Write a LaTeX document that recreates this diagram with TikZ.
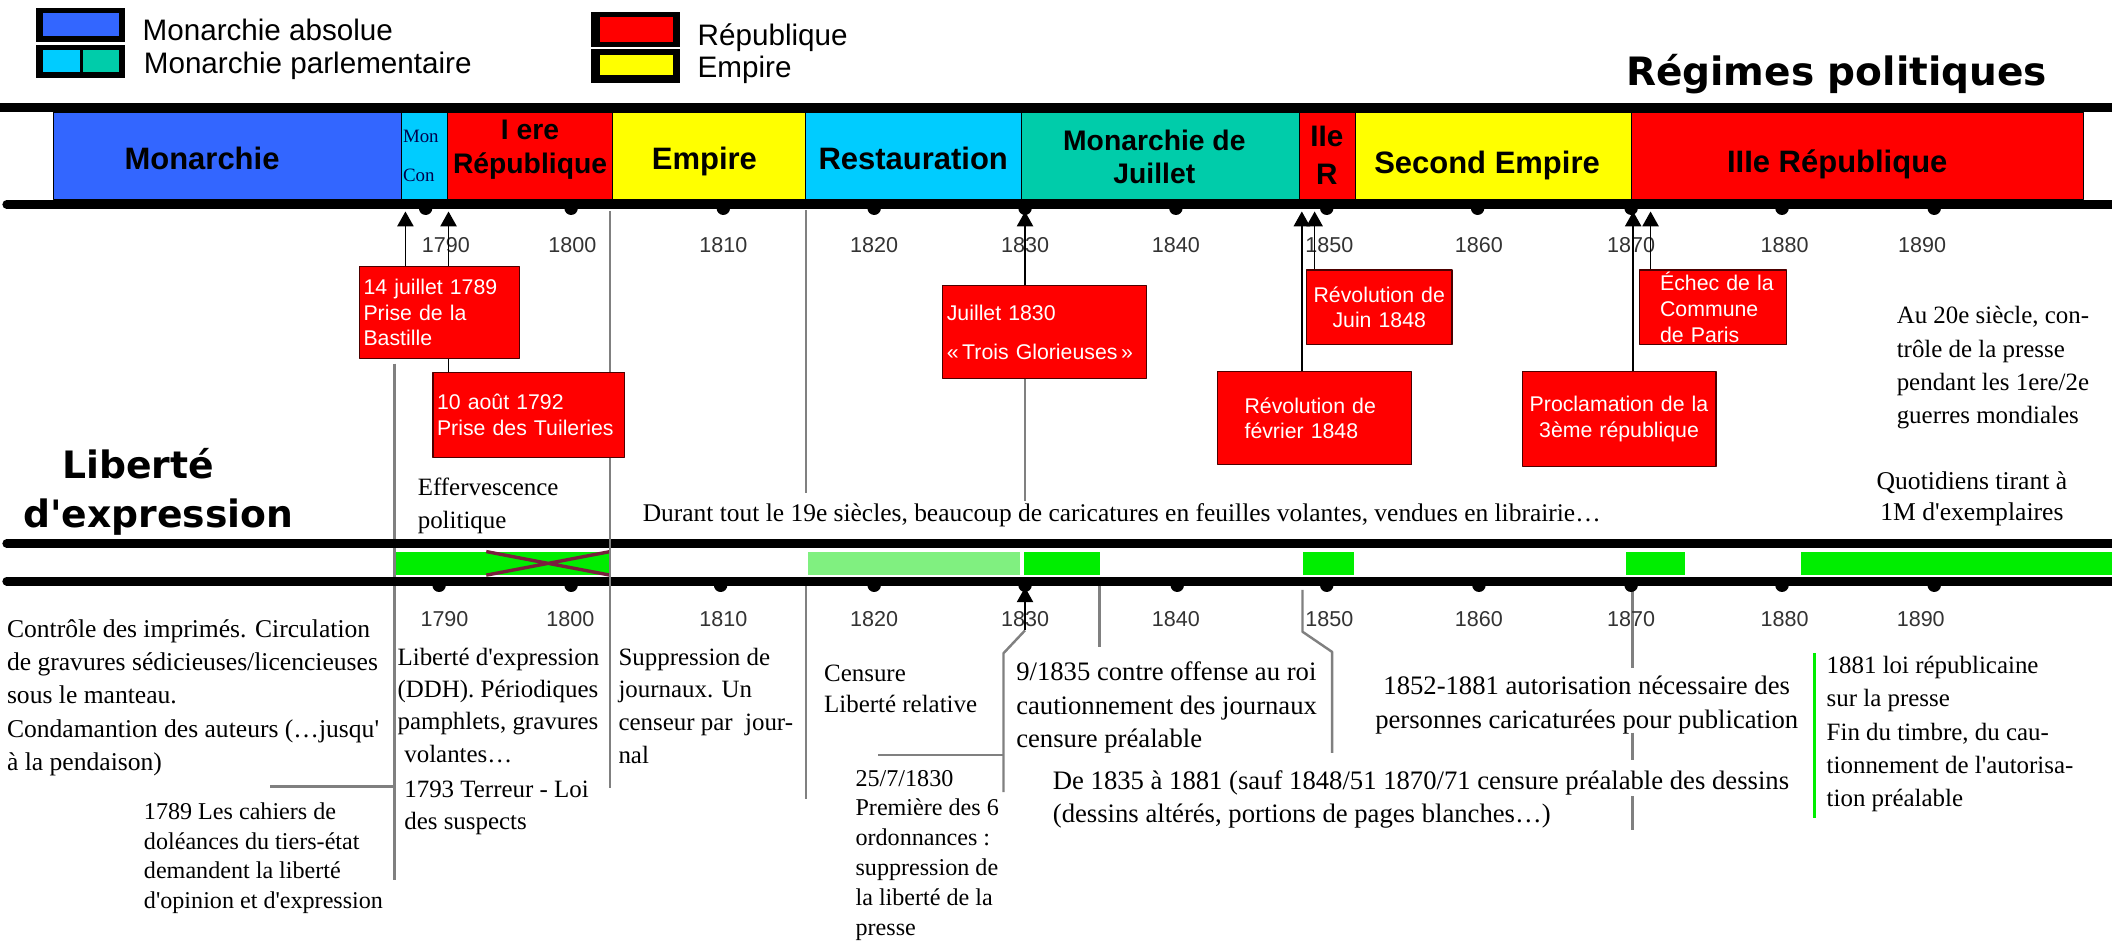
\documentclass[tikz,border=0pt]{standalone}
\usepackage{fontspec}
\setmainfont{Liberation Serif}
\newfontfamily\serifnote{Liberation Serif}
\newfontfamily\arialfont{Liberation Sans}
\newfontfamily\dejafont{DejaVu Sans}
\usetikzlibrary{arrows.meta}

\definecolor{monblue}{HTML}{3366FF}
\definecolor{parlcyan}{HTML}{00CCFF}
\definecolor{parlteal}{HTML}{00CCAA}
\definecolor{repred}{HTML}{FF0000}
\definecolor{empyellow}{HTML}{FFFF00}
\definecolor{freegreen}{HTML}{00EE00}
\definecolor{palegreen}{HTML}{80F080}
\definecolor{crossred}{HTML}{7A1F3D}

\tikzset{
  band/.style={draw=black, line width=0.8pt},
  axis/.style={line width=6.5pt, line cap=round},
  bandlabel/.style={font=\arialfont\bfseries\fontsize{23}{27}\selectfont, inner sep=0pt, anchor=base},
  twolabel/.style={font=\arialfont\bfseries\fontsize{21}{25}\selectfont, align=center, inner sep=0pt, anchor=north},
  legendlabel/.style={font=\arialfont\fontsize{22}{26}\selectfont, inner sep=0pt, anchor=base west},
  yearlabel/.style={font=\arialfont\fontsize{16}{18}\selectfont, text=black!80, inner sep=0pt, anchor=base},
  evbox/.style={draw=black!70!red, line width=0.8pt, fill=repred, text=white,
    font=\arialfont\fontsize{15.8}{19}\selectfont, inner xsep=3pt, inner ysep=0pt},
  note/.style={font=\serifnote\fontsize{18.5}{24.7}\selectfont, align=left, inner sep=0pt, anchor=north west},
  bignote/.style={note, font=\serifnote\fontsize{19.8}{24.7}\selectfont},
  smallnote/.style={note, font=\serifnote\fontsize{17.9}{22.2}\selectfont},
  greyline/.style={draw=black!50, line width=1.8pt},
  evarrow/.style={->, line width=1.2pt},
}

\begin{document}
\begin{tikzpicture}[x=1pt,y=-1pt,line join=round,>={Triangle[width=12pt,length=11pt]}]
\fill[white] (0,0) rectangle (1568,699);
\useasboundingbox (0,0) rectangle (1568,699);

% legende
\fill (26.4,6.2) rectangle (92.9,31);
\fill[monblue] (32,10) rectangle (88.6,26.7);
\fill (26.4,33.4) rectangle (92.9,58.2);
\fill[parlcyan] (32,37) rectangle (59.6,53.2);
\fill[parlteal] (61.8,37) rectangle (88.6,53.2);
\fill (439,8.7) rectangle (505,35.2);
\fill[repred] (445.4,12.9) rectangle (499.5,31.4);
\fill (439,36.7) rectangle (505,61.9);
\fill[empyellow] (445.4,40.8) rectangle (499.5,55.7);
\node[legendlabel] (legabs) at (105.7,30) {Monarchie absolue};
\node[legendlabel] (legparl) at (106.6,54.7) {Monarchie parlementaire};
\node[legendlabel] (legrep) at (517.8,33.7) {République};
\node[legendlabel] (legemp) at (517.8,57.2) {Empire};
\node[font=\dejafont\bfseries\fontsize{29}{34}\selectfont, inner sep=0pt, anchor=base west] (regimes) at (1207,63.5) {Régimes politiques};

% lignes grises
\coordinate (g1789) at (293,270);
\coordinate (g1800) at (453,157);
\coordinate (g1815) at (598.5,156);
\draw[greyline] (g1789) -- (293,653);
\draw[greyline] (200.5,584) -- (293,584);
\draw[greyline] (g1815) -- (598.5,366);
\draw[greyline] (598.5,434) -- (598.5,593);
\draw[greyline] (816.3,434) -- (816.3,480);
\draw[greyline] (967,438) -- (967,469) -- (989,484) -- (989,559);
\draw[greyline] (1212,434) -- (1212,496) (1212,544) -- (1212,564) (1212,591) -- (1212,616);
\draw[greyline] (761,468) -- (745,485) -- (745,588);
\draw[greyline] (652,560.5) -- (745,560.5);
\draw[draw=freegreen, line width=2pt] (1347,485) -- (1347,607);

% regimes
\foreach \xa/\xb/\col in {40/298/monblue, 298/332/parlcyan, 332/455/repred, 455/598/empyellow,
  598/758.5/parlcyan, 758.5/965/parlteal, 965/1006/repred, 1006/1211.5/empyellow, 1211.5/1547/repred}
  \draw[band, fill=\col] (\xa,83.4) rectangle (\xb,148);
\begin{scope}
  \clip (298,83.4) rectangle (332,148);
  \node[font=\serifnote\fontsize{14}{16}\selectfont, text=black!70!blue, inner sep=0pt, anchor=base west] (moncons) at (299,106) {Mon};
  \node[font=\serifnote\fontsize{14}{16}\selectfont, text=black!70!blue, inner sep=0pt, anchor=base west] (concons) at (299,135) {Con};
\end{scope}
\node[bandlabel] (lmon) at (150,126) {Monarchie};
\node[twolabel] (lrep1) at (393.5,89) {I ere\\République};
\node[bandlabel] (lemp1) at (523,126) {Empire};
\node[bandlabel] (lrest) at (678,126) {Restauration};
\node[twolabel] (ljuil) at (857,96) {Monarchie de\\Juillet};
\node[font=\arialfont\bfseries\fontsize{22}{28.5}\selectfont, align=center, inner sep=0pt, anchor=north] (lrep2) at (985,93.5) {IIe\\R};
\node[bandlabel] (lemp2) at (1104,129) {Second Empire};
\node[bandlabel] (lrep3) at (1364,128) {IIIe République};

% axes
\draw[axis] (-5,80) -- (1575,80);
\draw[axis] (5,151.8) -- (1575,151.8);
\fill[freegreen] (294,409.5) rectangle (453,427);
\draw[crossred, line width=2.5pt] (361,409.5) -- (453,427) (361,427) -- (453,409.5);
\fill[palegreen] (600,409.5) rectangle (757.6,427);
\fill[freegreen] (760,409.5) rectangle (817,427);
\fill[freegreen] (967,409.5) rectangle (1005,427);
\fill[freegreen] (1207,409.5) rectangle (1251,427);
\fill[freegreen] (1337,409.5) rectangle (1568,427);
\draw[axis] (5,403.5) -- (1575,403.5);
\draw[axis] (5,431.5) -- (1575,431.5);
\foreach \x in {316,424,537,649,761,873,985,1097,1211,1323,1436}
  \fill (\x,154.6) circle (5);
\foreach \x in {326,424,535,649,761,874,985,1098,1211,1323,1436}
  \fill (\x,434.5) circle (5);
\foreach \x/\yr in {331/1790,425/1800,537/1810,649/1820,761/1830,873/1840,987/1850,1098/1860,1211/1870,1325/1880,1427/1890}
  \node[yearlabel] (ytop\yr) at (\x,187.7) {\yr};
\foreach \x/\yr in {330/1790,423.5/1800,537/1810,649/1820,761/1830,873/1840,987/1850,1098/1860,1211/1870,1325/1880,1426/1890}
  \node[yearlabel] (ybot\yr) at (\x,465.3) {\yr};

% evenements
\node[evbox, text width=113pt, minimum height=68pt, align=left] (b1) at (326.4,232) {14 juillet 1789\\Prise de la\\Bastille};
\node[evbox, text width=136.5pt, minimum height=63pt, align=left] (b2) at (392.7,308) {10 août 1792\\Prise~des~Tuileries};
\node[evbox, text width=145.5pt, minimum height=68.5pt, align=left] (b3) at (775.7,246.5) {Juillet 1830\\[10pt]«\,Trois~Glorieuses\,»};
\node[evbox, text width=138pt, minimum height=69pt, align=left] (b4) at (976,310.5) {\hspace*{17pt}Révolution de\\\hspace*{17pt}février 1848};
\node[evbox, text width=102pt, minimum height=55.5pt, align=center] (b5) at (1024,228.2) {Révolution~de\\Juin 1848};
\node[evbox, text width=103pt, minimum height=55.5pt, align=left] (b6) at (1272,228.2) {\hspace*{12pt}Échec de la\\\hspace*{12pt}Commune\\\hspace*{12pt}de Paris};
\node[evbox, text width=138pt, minimum height=70pt, align=center] (b7) at (1202,311) {Proclamation~de~la\\3ème république};

\draw[greyline] (g1800) -- (g1800 |- b2.north);
\draw[greyline] (g1800 |- b2.south) -- (453,585);
\coordinate (ax1789) at (301,157);
\coordinate (ax1792) at (333,157);
\coordinate (ax1830) at (761,157);
\coordinate (axfev) at (966.5,157);
\coordinate (axjuin) at (976,157);
\coordinate (ax1870) at (1212.5,157);
\coordinate (ax1871) at (1225.4,157);
\draw[greyline] (b3.south -| ax1830) -- ++(0,91);
\draw[evarrow] (b1.north -| ax1789) -- (ax1789);
\draw[line width=1.2pt] (b2.north -| ax1792) -- (b1.south -| ax1792);
\draw[evarrow] (b1.north -| ax1792) -- (ax1792);
\draw[evarrow] (b3.north -| ax1830) -- (ax1830);
\draw[evarrow] (b4.north -| axfev) -- (axfev);
\draw[evarrow] (b5.north -| axjuin) -- (axjuin);
\draw[evarrow] (b7.north -| ax1870) -- (ax1870);
\draw[evarrow] (b6.north -| ax1871) -- (ax1871);
\coordinate (ord1830) at (761,468);
\coordinate (bx1830) at (761,436);
\draw[evarrow] (ord1830) -- (bx1830);

% liberte d'expression
\node[font=\dejafont\bfseries\fontsize{28}{36}\selectfont, align=left, inner sep=0pt, anchor=north west] (liberte) at (17,333) {\hspace*{29pt}Liberté\\d'expression};
\node[note] (efferv) at (310,354.3) {Effervescence\\politique};
\node[note, font=\serifnote\fontsize{18.9}{24}\selectfont, anchor=base west] (durant) at (477,387.3) {Durant tout le 19e siècles, beaucoup de caricatures en feuilles volantes, vendues en librairie…};
\node[note] (xxe) at (1408,227.3) {Au 20e siècle, con-\\trôle de la presse\\pendant les 1ere/2e\\guerres mondiales};
\node[note, align=center, anchor=north, font=\serifnote\fontsize{19}{23}\selectfont] (quotid) at (1464,350.3) {Quotidiens tirant à\\1M d'exemplaires};

\node[note, font=\serifnote\fontsize{19}{24.75}\selectfont] (controle) at (5,459.5) {Contrôle des imprimés. Circulation\\de gravures sédicieuses/licencieuses\\sous le manteau.\\Condamantion des auteurs (…jusqu'\\à la pendaison)};
\node[smallnote] (cahiers) at (106.7,595.5) {1789 Les cahiers de\\doléances du tiers-état\\demandent la liberté\\d'opinion et d'expression};
\node[note, font=\serifnote\fontsize{18.5}{24}\selectfont] (ddh) at (295,480.8) {Liberté d'expression\\(DDH). Périodiques\\pamphlets, gravures\\\hspace*{5pt}volantes…};
\node[note, font=\serifnote\fontsize{18.5}{23.5}\selectfont] (terreur) at (300,579.8) {1793 Terreur - Loi\\des suspects};
\node[note, font=\serifnote\fontsize{18.5}{24.3}\selectfont] (suppr) at (459,480.8) {Suppression de\\journaux. Un\\censeur par~ jour-\\nal};
\node[note, font=\serifnote\fontsize{18.5}{23}\selectfont] (censure) at (611.7,493.3) {Censure\\Liberté relative};
\node[smallnote] (ordonn) at (635,571.5) {25/7/1830\\Première des 6\\ordonnances :\\suppression de\\la liberté de la\\presse};
\node[bignote] (offense) at (754.3,491.3) {9/1835 contre offense au roi\\cautionnement des journaux\\censure préalable};
\node[bignote, align=center, anchor=north, font=\serifnote\fontsize{19.8}{25}\selectfont] (autoris) at (1178,501.7) {1852-1881 autorisation nécessaire des\\personnes caricaturées pour publication};
\node[bignote] (dessins) at (781.5,571.7) {De 1835 à 1881 (sauf 1848/51 1870/71 censure préalable des dessins\\(dessins altérés, portions de pages blanches…)};
\node[note] (loi1881) at (1356,487) {1881 loi républicaine\\sur la presse\\Fin du timbre, du cau-\\tionnement de l'autorisa-\\tion préalable};
\end{tikzpicture}
\end{document}
